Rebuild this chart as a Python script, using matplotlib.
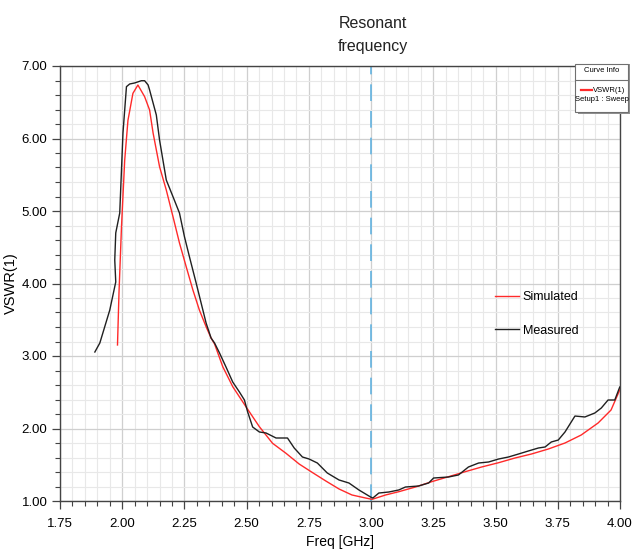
import matplotlib
matplotlib.use("Agg")
import matplotlib.pyplot as plt
from matplotlib.ticker import MultipleLocator, FormatStrFormatter
from matplotlib.patches import Rectangle
from matplotlib.lines import Line2D

NARROW = ["Liberation Sans Narrow", "DejaVu Sans Condensed", "Liberation Sans", "DejaVu Sans"]

# measured VSWR (black)
meas_freq = [1.890, 1.910, 1.950, 1.974, 1.970, 1.974, 1.990, 1.997, 2.003, 2.017,
             2.030, 2.050, 2.077, 2.090, 2.104, 2.110, 2.137, 2.150, 2.177, 2.204,
             2.230, 2.250, 2.270, 2.297, 2.317, 2.337, 2.357, 2.371, 2.391, 2.417,
             2.444, 2.471, 2.491, 2.504, 2.524, 2.551, 2.578, 2.618, 2.664, 2.691,
             2.724, 2.751, 2.784, 2.824, 2.871, 2.911, 2.951, 2.998, 3.007, 3.031,
             3.071, 3.111, 3.138, 3.191, 3.231, 3.251, 3.311, 3.351, 3.391, 3.432,
             3.472, 3.512, 3.552, 3.592, 3.632, 3.672, 3.699, 3.724, 3.752, 3.779,
             3.819, 3.859, 3.899, 3.925, 3.952, 3.979, 3.999]
meas_vswr = [3.055, 3.179, 3.634, 4.021, 4.324, 4.697, 4.972, 5.566, 6.076, 6.715,
             6.752, 6.766, 6.797, 6.797, 6.738, 6.669, 6.324, 5.979, 5.428, 5.197,
             4.972, 4.646, 4.370, 4.007, 3.731, 3.455, 3.248, 3.179, 3.041, 2.848,
             2.641, 2.503, 2.393, 2.228, 2.021, 1.952, 1.938, 1.869, 1.869, 1.731,
             1.607, 1.579, 1.524, 1.386, 1.290, 1.248, 1.152, 1.055, 1.041, 1.110,
             1.124, 1.152, 1.193, 1.207, 1.248, 1.317, 1.331, 1.359, 1.469, 1.524,
             1.538, 1.579, 1.607, 1.648, 1.690, 1.731, 1.745, 1.814, 1.841, 1.952,
             2.172, 2.159, 2.214, 2.283, 2.393, 2.393, 2.572]

# simulated VSWR (red)
sim_freq = [1.981, 1.987, 1.997, 2.010, 2.023, 2.043, 2.063, 2.090, 2.110, 2.124,
            2.150, 2.177, 2.204, 2.230, 2.257, 2.284, 2.310, 2.337, 2.357, 2.371,
            2.404, 2.444, 2.497, 2.551, 2.604, 2.658, 2.711, 2.764, 2.818, 2.871,
            2.923, 2.978, 3.004, 3.058, 3.111, 3.178, 3.243, 3.311, 3.378, 3.444,
            3.512, 3.578, 3.644, 3.712, 3.779, 3.844, 3.912, 3.964, 3.999]
sim_vswr = [3.152, 3.869, 4.779, 5.703, 6.250, 6.623, 6.738, 6.577, 6.393, 6.076,
            5.611, 5.290, 4.921, 4.559, 4.232, 3.910, 3.634, 3.404, 3.248, 3.166,
            2.852, 2.577, 2.301, 2.025, 1.796, 1.658, 1.510, 1.393, 1.276, 1.166,
            1.083, 1.041, 1.023, 1.083, 1.128, 1.193, 1.266, 1.335, 1.404, 1.469,
            1.528, 1.593, 1.648, 1.717, 1.800, 1.910, 2.076, 2.255, 2.531]

resonant = 3.00

fig = plt.figure(figsize=(6.33, 5.55), dpi=100)
ax = fig.add_axes([60 / 633, 54 / 555, 560 / 633, 435 / 555])

ax.plot(sim_freq, sim_vswr, color="#ff2a2a", lw=1.0, label="Simulated", zorder=3)
ax.plot(meas_freq, meas_vswr, color="#202020", lw=1.0, label="Measured", zorder=4)
ax.axvline(resonant, color="#62b3e0", lw=1.2, dashes=(10, 6), zorder=2)

ax.set_xlim(1.75, 4.00)
ax.set_ylim(1.00, 7.00)
ax.xaxis.set_major_locator(MultipleLocator(0.25))
ax.xaxis.set_minor_locator(MultipleLocator(0.05))
ax.yaxis.set_major_locator(MultipleLocator(1.0))
ax.yaxis.set_minor_locator(MultipleLocator(0.2))
ax.xaxis.set_major_formatter(FormatStrFormatter("%.2f"))
ax.yaxis.set_major_formatter(FormatStrFormatter("%.2f"))

ax.grid(which="major", color="#cfcfcf", lw=0.9)
ax.grid(which="minor", color="#e8e8e8", lw=0.8)
ax.set_axisbelow(True)

ax.tick_params(which="major", direction="out", length=6, width=0.9, color="#444444",
               labelsize=9.5, pad=3)
ax.tick_params(which="minor", direction="out", length=3.5, width=0.8, color="#444444")
for lab in ax.get_xticklabels() + ax.get_yticklabels():
    lab.set_family(NARROW)
    lab.set_stretch("condensed")
ax.tick_params(axis="x", pad=6)

for side in ["left", "bottom", "top", "right"]:
    ax.spines[side].set_color("#444444")
    ax.spines[side].set_linewidth(1.0)

ax.set_xlabel("Freq [GHz]", family=NARROW, stretch="condensed", fontsize=10, labelpad=4)
ax.set_ylabel("VSWR(1)", family=["Liberation Sans", "DejaVu Sans"], fontsize=10.5)
ax.yaxis.set_label_coords(-42 / 560, 0.5)

fig.text(373 / 633, 1 - 23 / 555, "Resonant", family=NARROW, stretch="condensed",
         fontsize=11.5, ha="center", va="center", color="#222222")
fig.text(373 / 633, 1 - 47 / 555, "frequency", family=NARROW, stretch="condensed",
         fontsize=11.5, ha="center", va="center", color="#222222")

leg = ax.legend(loc="upper left", bbox_to_anchor=(484 / 633, 1 - 280 / 555),
                bbox_transform=fig.transFigure, frameon=False, handlelength=1.9,
                handletextpad=0.3, labelspacing=1.7,
                prop={"family": NARROW, "size": 9, "stretch": "condensed"})

# Curve Info box
fig.patches.append(Rectangle((578 / 633, 1 - 114 / 555), 52 / 633, 50 / 555,
                             transform=fig.transFigure, facecolor="#909090",
                             edgecolor="none", zorder=9))
fig.patches.append(Rectangle((575 / 633, 1 - 112 / 555), 53 / 633, 48 / 555,
                             transform=fig.transFigure, facecolor="white",
                             edgecolor="#707070", lw=0.8, zorder=10))
fig.lines.append(Line2D([575 / 633, 628 / 633], [1 - 80 / 555, 1 - 80 / 555],
                        transform=fig.transFigure, color="#707070", lw=0.8, zorder=11))
fig.lines.append(Line2D([581 / 633, 592 / 633], [1 - 90 / 555, 1 - 90 / 555],
                        transform=fig.transFigure, color="#ff2a2a", lw=1.6, zorder=11))
info_font = dict(family=NARROW, stretch="condensed", fontsize=5.5, va="center", zorder=12)
fig.text(601.5 / 633, 1 - 71 / 555, "Curve Info", ha="center", **info_font)
fig.text(609 / 633, 1 - 90 / 555, "VSWR(1)", ha="center", **info_font)
fig.text(601.5 / 633, 1 - 100 / 555, "Setup1 : Sweep", ha="center", **info_font)

fig.savefig("out.png", dpi=100, facecolor="white")
